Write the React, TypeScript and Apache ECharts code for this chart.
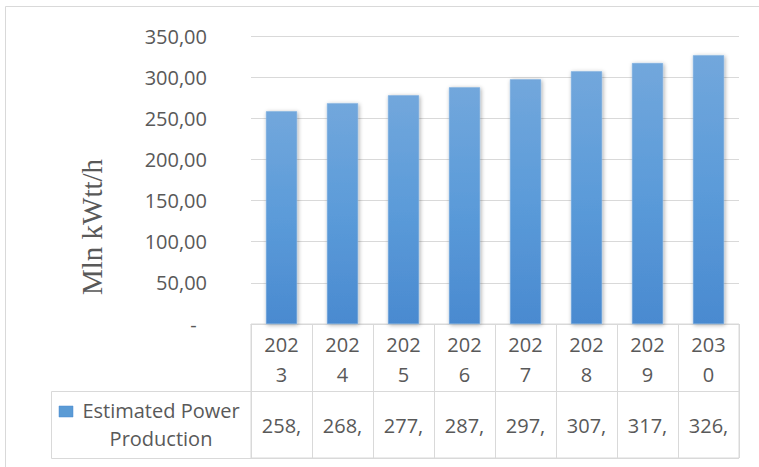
import React, { useEffect, useRef } from "react";
import * as echarts from "echarts";

const CATEGORIES = ["2023", "2024", "2025", "2026", "2027", "2028", "2029", "2030"];
const VALUES = [258.5, 268.4, 277.9, 287.6, 297.3, 307.2, 317.1, 326.7];
const SERIES_NAME = "Estimated Power Production";
const Y_TITLE = "Mln kWtt/h";
const Y_MIN = 0;
const Y_MAX = 350;
const Y_INTERVAL = 50;

const FONT = "'Open Sans', 'Noto Sans', sans-serif";
const TEXT_COLOR = "#595959";
const LINE_COLOR = "#d9d9d9";

export default function App() {
  const ref = useRef<HTMLDivElement>(null);

  useEffect(() => {
    if (!ref.current) return;
    const chart = echarts.init(ref.current, undefined, { renderer: "svg" });
    const words = SERIES_NAME.split(" ");
    const legendText = words.slice(0, -1).join(" ") + "\n" + words[words.length - 1];

    chart.setOption({
      animation: false,
      backgroundColor: "#ffffff",
      grid: [
        { left: 251, right: 20, top: 36, height: 288, containLabel: false },
        {
          left: 251,
          right: 20,
          top: 324,
          bottom: 9,
          show: true,
          borderColor: LINE_COLOR,
          borderWidth: 1,
          backgroundColor: "transparent",
        },
      ],
      xAxis: [
        {
          type: "category",
          gridIndex: 0,
          data: CATEGORIES,
          axisLine: { show: true, lineStyle: { color: LINE_COLOR, width: 1 } },
          axisTick: { show: false },
          axisLabel: {
            interval: 0,
            margin: 5,
            color: TEXT_COLOR,
            fontFamily: FONT,
            fontSize: 20,
            lineHeight: 30,
            verticalAlign: "top",
            formatter: (c: string) => c.slice(0, 3) + "\n" + c.slice(3),
          },
        },
        {
          type: "category",
          gridIndex: 1,
          data: CATEGORIES,
          axisLine: { show: false },
          axisTick: { show: false },
          splitLine: { show: true, interval: 0, lineStyle: { color: LINE_COLOR, width: 1 } },
          axisLabel: {
            interval: 0,
            inside: true,
            margin: 33,
            verticalAlign: "middle",
            color: TEXT_COLOR,
            fontFamily: FONT,
            fontSize: 20,
            formatter: (_c: string, idx: number) => `${Math.floor(VALUES[idx])},`,
          },
        },
      ],
      yAxis: [
        {
          type: "value",
          gridIndex: 0,
          min: Y_MIN,
          max: Y_MAX,
          interval: Y_INTERVAL,
          axisLine: { show: false },
          axisTick: { show: false },
          splitLine: { show: true, lineStyle: { color: LINE_COLOR, width: 1 } },
          axisLabel: {
            margin: 44,
            color: TEXT_COLOR,
            fontFamily: FONT,
            fontSize: 20,
            formatter: (v: number) => (v === 0 ? "-  " : v.toFixed(2).replace(".", ",")),
          },
        },
        {
          type: "value",
          gridIndex: 1,
          min: 0,
          max: 2,
          interval: 1,
          axisLine: { show: false },
          axisTick: { show: false },
          axisLabel: { show: false },
          splitLine: { show: true, lineStyle: { color: LINE_COLOR, width: 1 } },
        },
      ],
      series: [
        {
          name: SERIES_NAME,
          type: "bar",
          xAxisIndex: 0,
          yAxisIndex: 0,
          data: VALUES,
          barWidth: "51%",
          itemStyle: {
            color: new echarts.graphic.LinearGradient(0, 0, 0, 1, [
              { offset: 0, color: "#72a7dc" },
              { offset: 0.5, color: "#5b9bd9" },
              { offset: 1, color: "#4a8ad0" },
            ]),
            borderColor: "#7fb0e0",
            borderWidth: 0.5,
            shadowColor: "rgba(0,0,0,0.35)",
            shadowBlur: 4,
            shadowOffsetX: 1,
            shadowOffsetY: 1,
          },
        },
      ],
      graphic: [
        {
          type: "rect",
          shape: { x: 5.5, y: 6.5, width: 800, height: 500 },
          style: { fill: "none", stroke: LINE_COLOR, lineWidth: 1 },
          silent: true,
          z: -1,
        },
        {
          type: "rect",
          shape: { x: 51.5, y: 391.5, width: 200, height: 67 },
          style: { fill: "none", stroke: LINE_COLOR, lineWidth: 1 },
          silent: true,
        },
        {
          type: "rect",
          shape: { x: 59, y: 406, width: 14, height: 11 },
          style: { fill: "#5b9bd5", stroke: "#4a8ad0", lineWidth: 0.5 },
          silent: true,
        },
        {
          type: "text",
          x: 161,
          y: 424,
          style: {
            text: legendText,
            fill: TEXT_COLOR,
            font: `20px ${FONT}`,
            align: "center",
            verticalAlign: "middle",
            lineHeight: 28,
          },
          silent: true,
        },
        {
          type: "text",
          x: 92,
          y: 227,
          rotation: Math.PI / 2,
          style: {
            text: Y_TITLE,
            fill: TEXT_COLOR,
            font: `29px 'Liberation Serif', 'DejaVu Serif', serif`,
            align: "center",
            verticalAlign: "middle",
          },
          silent: true,
        },
      ],
    });

    return () => chart.dispose();
  }, []);

  return (
    <div
      ref={ref}
      style={{ position: "absolute", left: 0, top: 0, width: 759, height: 467 }}
    />
  );
}
